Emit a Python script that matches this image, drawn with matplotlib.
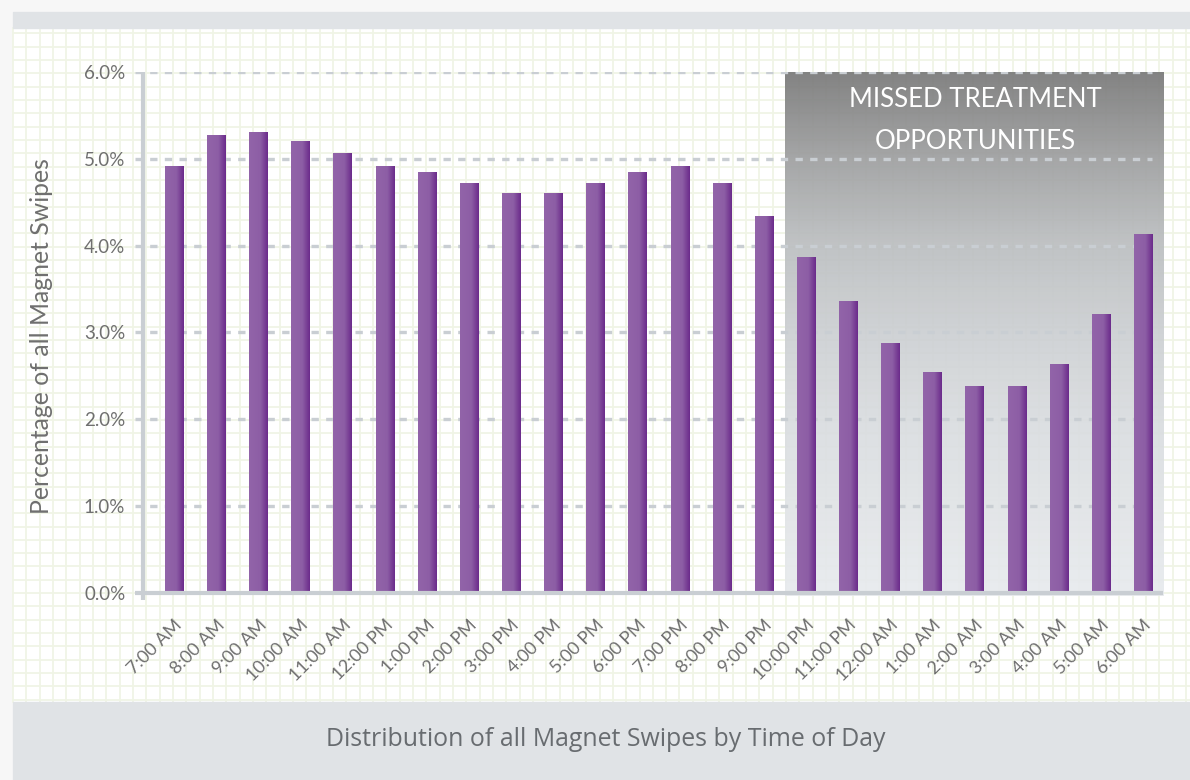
import numpy as np
import matplotlib
matplotlib.use("Agg")
import matplotlib.pyplot as plt
from matplotlib.colors import LinearSegmentedColormap, to_rgb
from matplotlib.patches import Rectangle

hours = ["7:00 AM", "8:00 AM", "9:00 AM", "10:00 AM", "11:00 AM", "12:00 PM",
         "1:00 PM", "2:00 PM", "3:00 PM", "4:00 PM", "5:00 PM", "6:00 PM",
         "7:00 PM", "8:00 PM", "9:00 PM", "10:00 PM", "11:00 PM", "12:00 AM",
         "1:00 AM", "2:00 AM", "3:00 AM", "4:00 AM", "5:00 AM", "6:00 AM"]
share = [4.92, 5.27, 5.31, 5.20, 5.07, 4.92, 4.85, 4.72, 4.61, 4.61, 4.72, 4.85,
         4.92, 4.72, 4.34, 3.87, 3.36, 2.88, 2.55, 2.38, 2.38, 2.64, 3.21, 4.14]
yticks = [0, 1, 2, 3, 4, 5, 6]
missed_from = "10:00 PM"

W, H = 1190, 780
TXT = "#6f6f6f"; AXC = "#c9ced3"; BAND = "#e0e3e6"; PAPER = "#f0f4e6"
FONT = ["Lato", "DejaVu Sans"]

fig = plt.figure(figsize=(W / 100, H / 100), dpi=100)

# ---- background: frame, graph paper, bands (pixel coords) ----
bg = fig.add_axes([0, 0, 1, 1])
bg.set_xlim(0, W); bg.set_ylim(H, 0); bg.axis("off")
bg.add_patch(Rectangle((0, 0), W, H, color="#f7f7f7", zorder=0))
bg.add_patch(Rectangle((13, 12), W, H, color="white", zorder=1))
for gx in np.arange(13, W, 13.33):
    bg.plot([gx, gx], [28, 702], color=PAPER, lw=1.3, zorder=2)
for gy in np.arange(33.3, 702, 13.33):
    bg.plot([13, W], [gy, gy], color=PAPER, lw=1.3, zorder=2)
bg.add_patch(Rectangle((13, 12), W, 16, color=BAND, zorder=3))
bg.add_patch(Rectangle((13, 702), W, 80, color=BAND, zorder=3))
bg.text(606, 740, "Distribution of all Magnet Swipes by Time of Day",
        ha="center", va="center", fontsize=17.9, color="#686c70",
        family=["Open Sans", "DejaVu Sans"], zorder=4)

# ---- main axes ----
slot = 42.13; x0px = 174
xl = ((135 - x0px) / slot, (1163 - x0px) / slot)
ax = fig.add_axes([135 / W, (H - 600) / H, (1163 - 135) / W, (600 - 72) / H])
ax.patch.set_alpha(0)
x = np.arange(len(hours))
ax.set_xlim(*xl)
ax.set_ylim(-7 / 86.83, 6)
for s in ax.spines.values():
    s.set_visible(False)

# shaded "missed" zone, dark at top fading to pale grey
i0 = hours.index(missed_from) - 0.5
stops = [0, 0.17, 0.33, 0.5, 0.67, 1]
cols = np.array([to_rgb(c) for c in
                 ["#7a7a7a", "#a0a1a2", "#bcbfc1", "#cdd0d3", "#dadde0", "#e8ebee"]])
t = np.linspace(0, 1, 256)
shade = np.zeros((256, 1, 4))
for k in range(3):
    shade[:, 0, k] = np.interp(t, stops, cols[:, k])
shade[:, 0, 3] = 0.93
ax.imshow(shade, extent=(i0, xl[1], -0.03, 6), aspect="auto", zorder=1,
          interpolation="bilinear")

# gridlines
for v in yticks[1:]:
    ax.plot([xl[0], (1152 - x0px) / slot], [v, v], color=AXC, lw=2.4,
            ls=(0, (2.2, 2.2)), zorder=2)

# bars with horizontal gradient
bcmap = LinearSegmentedColormap.from_list(
    "bar", [(0, "#9264a9"), (0.6, "#8d5ea5"), (1, "#6b2b8b")])
grad = np.linspace(0, 1, 64)[None, :]
bw = 0.43
bars = ax.bar(x, share, width=bw, color="#8d5ea5", zorder=3)
for b in bars:
    im = ax.imshow(grad, cmap=bcmap, aspect="auto", zorder=3.5,
                   extent=(b.get_x(), b.get_x() + b.get_width(), 0, b.get_height()))
    im.set_clip_path(b)

# axis lines
ax.axhline(0, color=AXC, lw=3, zorder=4)
ax.axvline((143 - x0px) / slot, ymin=0, ymax=1, color=AXC, lw=3, zorder=4)

ax.text((975 - x0px) / slot, 5.44, "MISSED TREATMENT\nOPPORTUNITIES", ha="center",
        va="center", color="white", fontsize=18.5, linespacing=1.85,
        family=FONT, zorder=5)

ax.set_yticks(yticks)
ax.set_yticklabels([f"{v:.1f}%" for v in yticks], family=FONT, fontsize=13.5,
                   color=TXT)
ax.set_xticks(x)
ax.set_xticklabels(hours, rotation=45, ha="right", va="top",
                   rotation_mode="anchor", family=FONT, fontsize=13, color=TXT)
ax.tick_params(axis="both", length=0)
ax.tick_params(axis="y", pad=7)
ax.tick_params(axis="x", pad=12)
ax.set_ylabel("Percentage of all Magnet Swipes", family=FONT, fontsize=17.8,
              color=TXT, labelpad=22)

fig.savefig("out.png", dpi=100)
